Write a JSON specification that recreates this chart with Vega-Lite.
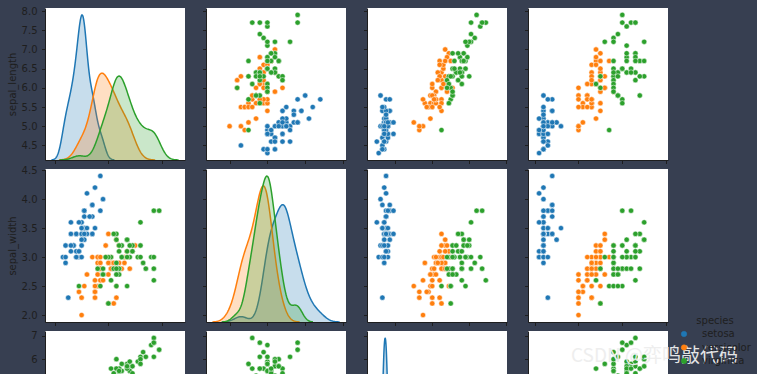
{
"$schema":"https://vega.github.io/schema/vega-lite/v6.json",
"background":"#373f51",
"padding":{"left":7,"top":6,"right":7,"bottom":0},
"autosize":{"type":"pad"},
"bounds":"flush",
"columns":4,
"spacing":{"row":9,"column":21},
"datasets":{"iris":[
{"sepal_length":5.1,"sepal_width":3.5,"petal_length":1.4,"petal_width":0.2,"species":"setosa"},
{"sepal_length":4.9,"sepal_width":3.0,"petal_length":1.4,"petal_width":0.2,"species":"setosa"},
{"sepal_length":4.7,"sepal_width":3.2,"petal_length":1.3,"petal_width":0.2,"species":"setosa"},
{"sepal_length":4.6,"sepal_width":3.1,"petal_length":1.5,"petal_width":0.2,"species":"setosa"},
{"sepal_length":5.0,"sepal_width":3.6,"petal_length":1.4,"petal_width":0.2,"species":"setosa"},
{"sepal_length":5.4,"sepal_width":3.9,"petal_length":1.7,"petal_width":0.4,"species":"setosa"},
{"sepal_length":4.6,"sepal_width":3.4,"petal_length":1.4,"petal_width":0.3,"species":"setosa"},
{"sepal_length":5.0,"sepal_width":3.4,"petal_length":1.5,"petal_width":0.2,"species":"setosa"},
{"sepal_length":4.4,"sepal_width":2.9,"petal_length":1.4,"petal_width":0.2,"species":"setosa"},
{"sepal_length":4.9,"sepal_width":3.1,"petal_length":1.5,"petal_width":0.1,"species":"setosa"},
{"sepal_length":5.4,"sepal_width":3.7,"petal_length":1.5,"petal_width":0.2,"species":"setosa"},
{"sepal_length":4.8,"sepal_width":3.4,"petal_length":1.6,"petal_width":0.2,"species":"setosa"},
{"sepal_length":4.8,"sepal_width":3.0,"petal_length":1.4,"petal_width":0.1,"species":"setosa"},
{"sepal_length":4.3,"sepal_width":3.0,"petal_length":1.1,"petal_width":0.1,"species":"setosa"},
{"sepal_length":5.8,"sepal_width":4.0,"petal_length":1.2,"petal_width":0.2,"species":"setosa"},
{"sepal_length":5.7,"sepal_width":4.4,"petal_length":1.5,"petal_width":0.4,"species":"setosa"},
{"sepal_length":5.4,"sepal_width":3.9,"petal_length":1.3,"petal_width":0.4,"species":"setosa"},
{"sepal_length":5.1,"sepal_width":3.5,"petal_length":1.4,"petal_width":0.3,"species":"setosa"},
{"sepal_length":5.7,"sepal_width":3.8,"petal_length":1.7,"petal_width":0.3,"species":"setosa"},
{"sepal_length":5.1,"sepal_width":3.8,"petal_length":1.5,"petal_width":0.3,"species":"setosa"},
{"sepal_length":5.4,"sepal_width":3.4,"petal_length":1.7,"petal_width":0.2,"species":"setosa"},
{"sepal_length":5.1,"sepal_width":3.7,"petal_length":1.5,"petal_width":0.4,"species":"setosa"},
{"sepal_length":4.6,"sepal_width":3.6,"petal_length":1.0,"petal_width":0.2,"species":"setosa"},
{"sepal_length":5.1,"sepal_width":3.3,"petal_length":1.7,"petal_width":0.5,"species":"setosa"},
{"sepal_length":4.8,"sepal_width":3.4,"petal_length":1.9,"petal_width":0.2,"species":"setosa"},
{"sepal_length":5.0,"sepal_width":3.0,"petal_length":1.6,"petal_width":0.2,"species":"setosa"},
{"sepal_length":5.0,"sepal_width":3.4,"petal_length":1.6,"petal_width":0.4,"species":"setosa"},
{"sepal_length":5.2,"sepal_width":3.5,"petal_length":1.5,"petal_width":0.2,"species":"setosa"},
{"sepal_length":5.2,"sepal_width":3.4,"petal_length":1.4,"petal_width":0.2,"species":"setosa"},
{"sepal_length":4.7,"sepal_width":3.2,"petal_length":1.6,"petal_width":0.2,"species":"setosa"},
{"sepal_length":4.8,"sepal_width":3.1,"petal_length":1.6,"petal_width":0.2,"species":"setosa"},
{"sepal_length":5.4,"sepal_width":3.4,"petal_length":1.5,"petal_width":0.4,"species":"setosa"},
{"sepal_length":5.2,"sepal_width":4.1,"petal_length":1.5,"petal_width":0.1,"species":"setosa"},
{"sepal_length":5.5,"sepal_width":4.2,"petal_length":1.4,"petal_width":0.2,"species":"setosa"},
{"sepal_length":4.9,"sepal_width":3.1,"petal_length":1.5,"petal_width":0.2,"species":"setosa"},
{"sepal_length":5.0,"sepal_width":3.2,"petal_length":1.2,"petal_width":0.2,"species":"setosa"},
{"sepal_length":5.5,"sepal_width":3.5,"petal_length":1.3,"petal_width":0.2,"species":"setosa"},
{"sepal_length":4.9,"sepal_width":3.6,"petal_length":1.4,"petal_width":0.1,"species":"setosa"},
{"sepal_length":4.4,"sepal_width":3.0,"petal_length":1.3,"petal_width":0.2,"species":"setosa"},
{"sepal_length":5.1,"sepal_width":3.4,"petal_length":1.5,"petal_width":0.2,"species":"setosa"},
{"sepal_length":5.0,"sepal_width":3.5,"petal_length":1.3,"petal_width":0.3,"species":"setosa"},
{"sepal_length":4.5,"sepal_width":2.3,"petal_length":1.3,"petal_width":0.3,"species":"setosa"},
{"sepal_length":4.4,"sepal_width":3.2,"petal_length":1.3,"petal_width":0.2,"species":"setosa"},
{"sepal_length":5.0,"sepal_width":3.5,"petal_length":1.6,"petal_width":0.6,"species":"setosa"},
{"sepal_length":5.1,"sepal_width":3.8,"petal_length":1.9,"petal_width":0.4,"species":"setosa"},
{"sepal_length":4.8,"sepal_width":3.0,"petal_length":1.4,"petal_width":0.3,"species":"setosa"},
{"sepal_length":5.1,"sepal_width":3.8,"petal_length":1.6,"petal_width":0.2,"species":"setosa"},
{"sepal_length":4.6,"sepal_width":3.2,"petal_length":1.4,"petal_width":0.2,"species":"setosa"},
{"sepal_length":5.3,"sepal_width":3.7,"petal_length":1.5,"petal_width":0.2,"species":"setosa"},
{"sepal_length":5.0,"sepal_width":3.3,"petal_length":1.4,"petal_width":0.2,"species":"setosa"},
{"sepal_length":7.0,"sepal_width":3.2,"petal_length":4.7,"petal_width":1.4,"species":"versicolor"},
{"sepal_length":6.4,"sepal_width":3.2,"petal_length":4.5,"petal_width":1.5,"species":"versicolor"},
{"sepal_length":6.9,"sepal_width":3.1,"petal_length":4.9,"petal_width":1.5,"species":"versicolor"},
{"sepal_length":5.5,"sepal_width":2.3,"petal_length":4.0,"petal_width":1.3,"species":"versicolor"},
{"sepal_length":6.5,"sepal_width":2.8,"petal_length":4.6,"petal_width":1.5,"species":"versicolor"},
{"sepal_length":5.7,"sepal_width":2.8,"petal_length":4.5,"petal_width":1.3,"species":"versicolor"},
{"sepal_length":6.3,"sepal_width":3.3,"petal_length":4.7,"petal_width":1.6,"species":"versicolor"},
{"sepal_length":4.9,"sepal_width":2.4,"petal_length":3.3,"petal_width":1.0,"species":"versicolor"},
{"sepal_length":6.6,"sepal_width":2.9,"petal_length":4.6,"petal_width":1.3,"species":"versicolor"},
{"sepal_length":5.2,"sepal_width":2.7,"petal_length":3.9,"petal_width":1.4,"species":"versicolor"},
{"sepal_length":5.0,"sepal_width":2.0,"petal_length":3.5,"petal_width":1.0,"species":"versicolor"},
{"sepal_length":5.9,"sepal_width":3.0,"petal_length":4.2,"petal_width":1.5,"species":"versicolor"},
{"sepal_length":6.0,"sepal_width":2.2,"petal_length":4.0,"petal_width":1.0,"species":"versicolor"},
{"sepal_length":6.1,"sepal_width":2.9,"petal_length":4.7,"petal_width":1.4,"species":"versicolor"},
{"sepal_length":5.6,"sepal_width":2.9,"petal_length":3.6,"petal_width":1.3,"species":"versicolor"},
{"sepal_length":6.7,"sepal_width":3.1,"petal_length":4.4,"petal_width":1.4,"species":"versicolor"},
{"sepal_length":5.6,"sepal_width":3.0,"petal_length":4.5,"petal_width":1.5,"species":"versicolor"},
{"sepal_length":5.8,"sepal_width":2.7,"petal_length":4.1,"petal_width":1.0,"species":"versicolor"},
{"sepal_length":6.2,"sepal_width":2.2,"petal_length":4.5,"petal_width":1.5,"species":"versicolor"},
{"sepal_length":5.6,"sepal_width":2.5,"petal_length":3.9,"petal_width":1.1,"species":"versicolor"},
{"sepal_length":5.9,"sepal_width":3.2,"petal_length":4.8,"petal_width":1.8,"species":"versicolor"},
{"sepal_length":6.1,"sepal_width":2.8,"petal_length":4.0,"petal_width":1.3,"species":"versicolor"},
{"sepal_length":6.3,"sepal_width":2.5,"petal_length":4.9,"petal_width":1.5,"species":"versicolor"},
{"sepal_length":6.1,"sepal_width":2.8,"petal_length":4.7,"petal_width":1.2,"species":"versicolor"},
{"sepal_length":6.4,"sepal_width":2.9,"petal_length":4.3,"petal_width":1.3,"species":"versicolor"},
{"sepal_length":6.6,"sepal_width":3.0,"petal_length":4.4,"petal_width":1.4,"species":"versicolor"},
{"sepal_length":6.8,"sepal_width":2.8,"petal_length":4.8,"petal_width":1.4,"species":"versicolor"},
{"sepal_length":6.7,"sepal_width":3.0,"petal_length":5.0,"petal_width":1.7,"species":"versicolor"},
{"sepal_length":6.0,"sepal_width":2.9,"petal_length":4.5,"petal_width":1.5,"species":"versicolor"},
{"sepal_length":5.7,"sepal_width":2.6,"petal_length":3.5,"petal_width":1.0,"species":"versicolor"},
{"sepal_length":5.5,"sepal_width":2.4,"petal_length":3.8,"petal_width":1.1,"species":"versicolor"},
{"sepal_length":5.5,"sepal_width":2.4,"petal_length":3.7,"petal_width":1.0,"species":"versicolor"},
{"sepal_length":5.8,"sepal_width":2.7,"petal_length":3.9,"petal_width":1.2,"species":"versicolor"},
{"sepal_length":6.0,"sepal_width":2.7,"petal_length":5.1,"petal_width":1.6,"species":"versicolor"},
{"sepal_length":5.4,"sepal_width":3.0,"petal_length":4.5,"petal_width":1.5,"species":"versicolor"},
{"sepal_length":6.0,"sepal_width":3.4,"petal_length":4.5,"petal_width":1.6,"species":"versicolor"},
{"sepal_length":6.7,"sepal_width":3.1,"petal_length":4.7,"petal_width":1.5,"species":"versicolor"},
{"sepal_length":6.3,"sepal_width":2.3,"petal_length":4.4,"petal_width":1.3,"species":"versicolor"},
{"sepal_length":5.6,"sepal_width":3.0,"petal_length":4.1,"petal_width":1.3,"species":"versicolor"},
{"sepal_length":5.5,"sepal_width":2.5,"petal_length":4.0,"petal_width":1.3,"species":"versicolor"},
{"sepal_length":5.5,"sepal_width":2.6,"petal_length":4.4,"petal_width":1.2,"species":"versicolor"},
{"sepal_length":6.1,"sepal_width":3.0,"petal_length":4.6,"petal_width":1.4,"species":"versicolor"},
{"sepal_length":5.8,"sepal_width":2.6,"petal_length":4.0,"petal_width":1.2,"species":"versicolor"},
{"sepal_length":5.0,"sepal_width":2.3,"petal_length":3.3,"petal_width":1.0,"species":"versicolor"},
{"sepal_length":5.6,"sepal_width":2.7,"petal_length":4.2,"petal_width":1.3,"species":"versicolor"},
{"sepal_length":5.7,"sepal_width":3.0,"petal_length":4.2,"petal_width":1.2,"species":"versicolor"},
{"sepal_length":5.7,"sepal_width":2.9,"petal_length":4.2,"petal_width":1.3,"species":"versicolor"},
{"sepal_length":6.2,"sepal_width":2.9,"petal_length":4.3,"petal_width":1.3,"species":"versicolor"},
{"sepal_length":5.1,"sepal_width":2.5,"petal_length":3.0,"petal_width":1.1,"species":"versicolor"},
{"sepal_length":5.7,"sepal_width":2.8,"petal_length":4.1,"petal_width":1.3,"species":"versicolor"},
{"sepal_length":6.3,"sepal_width":3.3,"petal_length":6.0,"petal_width":2.5,"species":"virginica"},
{"sepal_length":5.8,"sepal_width":2.7,"petal_length":5.1,"petal_width":1.9,"species":"virginica"},
{"sepal_length":7.1,"sepal_width":3.0,"petal_length":5.9,"petal_width":2.1,"species":"virginica"},
{"sepal_length":6.3,"sepal_width":2.9,"petal_length":5.6,"petal_width":1.8,"species":"virginica"},
{"sepal_length":6.5,"sepal_width":3.0,"petal_length":5.8,"petal_width":2.2,"species":"virginica"},
{"sepal_length":7.6,"sepal_width":3.0,"petal_length":6.6,"petal_width":2.1,"species":"virginica"},
{"sepal_length":4.9,"sepal_width":2.5,"petal_length":4.5,"petal_width":1.7,"species":"virginica"},
{"sepal_length":7.3,"sepal_width":2.9,"petal_length":6.3,"petal_width":1.8,"species":"virginica"},
{"sepal_length":6.7,"sepal_width":2.5,"petal_length":5.8,"petal_width":1.8,"species":"virginica"},
{"sepal_length":7.2,"sepal_width":3.6,"petal_length":6.1,"petal_width":2.5,"species":"virginica"},
{"sepal_length":6.5,"sepal_width":3.2,"petal_length":5.1,"petal_width":2.0,"species":"virginica"},
{"sepal_length":6.4,"sepal_width":2.7,"petal_length":5.3,"petal_width":1.9,"species":"virginica"},
{"sepal_length":6.8,"sepal_width":3.0,"petal_length":5.5,"petal_width":2.1,"species":"virginica"},
{"sepal_length":5.7,"sepal_width":2.5,"petal_length":5.0,"petal_width":2.0,"species":"virginica"},
{"sepal_length":5.8,"sepal_width":2.8,"petal_length":5.1,"petal_width":2.4,"species":"virginica"},
{"sepal_length":6.4,"sepal_width":3.2,"petal_length":5.3,"petal_width":2.3,"species":"virginica"},
{"sepal_length":6.5,"sepal_width":3.0,"petal_length":5.5,"petal_width":1.8,"species":"virginica"},
{"sepal_length":7.7,"sepal_width":3.8,"petal_length":6.7,"petal_width":2.2,"species":"virginica"},
{"sepal_length":7.7,"sepal_width":2.6,"petal_length":6.9,"petal_width":2.3,"species":"virginica"},
{"sepal_length":6.0,"sepal_width":2.2,"petal_length":5.0,"petal_width":1.5,"species":"virginica"},
{"sepal_length":6.9,"sepal_width":3.2,"petal_length":5.7,"petal_width":2.3,"species":"virginica"},
{"sepal_length":5.6,"sepal_width":2.8,"petal_length":4.9,"petal_width":2.0,"species":"virginica"},
{"sepal_length":7.7,"sepal_width":2.8,"petal_length":6.7,"petal_width":2.0,"species":"virginica"},
{"sepal_length":6.3,"sepal_width":2.7,"petal_length":4.9,"petal_width":1.8,"species":"virginica"},
{"sepal_length":6.7,"sepal_width":3.3,"petal_length":5.7,"petal_width":2.1,"species":"virginica"},
{"sepal_length":7.2,"sepal_width":3.2,"petal_length":6.0,"petal_width":1.8,"species":"virginica"},
{"sepal_length":6.2,"sepal_width":2.8,"petal_length":4.8,"petal_width":1.8,"species":"virginica"},
{"sepal_length":6.1,"sepal_width":3.0,"petal_length":4.9,"petal_width":1.8,"species":"virginica"},
{"sepal_length":6.4,"sepal_width":2.8,"petal_length":5.6,"petal_width":2.1,"species":"virginica"},
{"sepal_length":7.2,"sepal_width":3.0,"petal_length":5.8,"petal_width":1.6,"species":"virginica"},
{"sepal_length":7.4,"sepal_width":2.8,"petal_length":6.1,"petal_width":1.9,"species":"virginica"},
{"sepal_length":7.9,"sepal_width":3.8,"petal_length":6.4,"petal_width":2.0,"species":"virginica"},
{"sepal_length":6.4,"sepal_width":2.8,"petal_length":5.6,"petal_width":2.2,"species":"virginica"},
{"sepal_length":6.3,"sepal_width":2.8,"petal_length":5.1,"petal_width":1.5,"species":"virginica"},
{"sepal_length":6.1,"sepal_width":2.6,"petal_length":5.6,"petal_width":1.4,"species":"virginica"},
{"sepal_length":7.7,"sepal_width":3.0,"petal_length":6.1,"petal_width":2.3,"species":"virginica"},
{"sepal_length":6.3,"sepal_width":3.4,"petal_length":5.6,"petal_width":2.4,"species":"virginica"},
{"sepal_length":6.4,"sepal_width":3.1,"petal_length":5.5,"petal_width":1.8,"species":"virginica"},
{"sepal_length":6.0,"sepal_width":3.0,"petal_length":4.8,"petal_width":1.8,"species":"virginica"},
{"sepal_length":6.9,"sepal_width":3.1,"petal_length":5.4,"petal_width":2.1,"species":"virginica"},
{"sepal_length":6.7,"sepal_width":3.1,"petal_length":5.6,"petal_width":2.4,"species":"virginica"},
{"sepal_length":6.9,"sepal_width":3.1,"petal_length":5.1,"petal_width":2.3,"species":"virginica"},
{"sepal_length":5.8,"sepal_width":2.7,"petal_length":5.1,"petal_width":1.9,"species":"virginica"},
{"sepal_length":6.8,"sepal_width":3.2,"petal_length":5.9,"petal_width":2.3,"species":"virginica"},
{"sepal_length":6.7,"sepal_width":3.3,"petal_length":5.7,"petal_width":2.5,"species":"virginica"},
{"sepal_length":6.7,"sepal_width":3.0,"petal_length":5.2,"petal_width":2.3,"species":"virginica"},
{"sepal_length":6.3,"sepal_width":2.5,"petal_length":5.0,"petal_width":1.9,"species":"virginica"},
{"sepal_length":6.5,"sepal_width":3.0,"petal_length":5.2,"petal_width":2.0,"species":"virginica"},
{"sepal_length":6.2,"sepal_width":3.4,"petal_length":5.4,"petal_width":2.3,"species":"virginica"},
{"sepal_length":5.9,"sepal_width":3.0,"petal_length":5.1,"petal_width":1.8,"species":"virginica"}
]},
"data":{"name":"iris"},
"config":{
 "font":"DejaVu Sans",
 "view":{"fill":"white","stroke":null},
 "axis":{"grid":false,"domainColor":"#1e1e1e","domainWidth":1,"tickColor":"#1e1e1e","tickWidth":1,"tickSize":3.5,"labelColor":"#1e1e1e","labelFontSize":10,"labelPadding":4.5,"titleColor":"#1e1e1e","titleFontSize":10,"titleFontWeight":"normal","titlePadding":4},
 "legend":{"orient":"none","legendX":634,"legendY":308,"titleAnchor":"middle","titlePadding":3,"symbolType":"circle","symbolSize":30,"symbolStrokeColor":"white","symbolStrokeWidth":0.5,"symbolOpacity":1,"rowPadding":3.5,"labelOffset":13,"padding":0,"titleColor":"#1e1e1e","labelColor":"#1e1e1e","titleFontSize":10,"labelFontSize":10,"titleFontWeight":"normal"}
},
"concat":[
  {"width":140,"height":152,
   "layer":[
    {"mark":{"type":"point","opacity":0},
     "encoding":{"x":{"field":"sepal_length","type":"quantitative","scale":{"domain":[3.631,8.865],"nice":false,"zero":false},"axis":{"values":[4,6,8],"labels":false,"title":null}},
                 "y":{"field":"sepal_length","type":"quantitative","scale":{"domain":[4.12,8.08],"nice":false,"zero":false},"axis":{"values":[4.5,5,5.5,6,6.5,7,7.5,8],"format":".1f","title":"sepal_length"}}}},
    {"transform":[{"filter":"datum.species == 'setosa'"},{"density":"sepal_length","groupby":["species"],"bandwidth":0.1436,"extent":[3.869,6.231],"steps":200}],
     "mark":{"type":"area","fillOpacity":0.25,"line":{"strokeWidth":1.5},"clip":true},
     "encoding":{"x":{"field":"value","type":"quantitative","scale":{"domain":[3.631,8.865],"nice":false,"zero":false},"axis":{"values":[4,6,8],"labels":false,"title":null}},
                 "y":{"field":"density","type":"quantitative","stack":null,"scale":{"domain":[0,1.225],"nice":false,"zero":false},"axis":null},
                 "color":{"field":"species","type":"nominal","scale":{"domain":["setosa","versicolor","virginica"],"range":["#1f77b4","#ff7f0e","#2ca02c"]}}}},
    {"transform":[{"filter":"datum.species == 'versicolor'"},{"density":"sepal_length","groupby":["species"],"bandwidth":0.2499,"extent":[4.15,7.75],"steps":200}],
     "mark":{"type":"area","fillOpacity":0.25,"line":{"strokeWidth":1.5},"clip":true},
     "encoding":{"x":{"field":"value","type":"quantitative","scale":{"domain":[3.631,8.865],"nice":false,"zero":false},"axis":{"values":[4,6,8],"labels":false,"title":null}},
                 "y":{"field":"density","type":"quantitative","stack":null,"scale":{"domain":[0,1.225],"nice":false,"zero":false},"axis":null},
                 "color":{"field":"species","type":"nominal","scale":{"domain":["setosa","versicolor","virginica"],"range":["#1f77b4","#ff7f0e","#2ca02c"]}}}},
    {"transform":[{"filter":"datum.species == 'virginica'"},{"density":"sepal_length","groupby":["species"],"bandwidth":0.2423,"extent":[4.173,8.627],"steps":200}],
     "mark":{"type":"area","fillOpacity":0.25,"line":{"strokeWidth":1.5},"clip":true},
     "encoding":{"x":{"field":"value","type":"quantitative","scale":{"domain":[3.631,8.865],"nice":false,"zero":false},"axis":{"values":[4,6,8],"labels":false,"title":null}},
                 "y":{"field":"density","type":"quantitative","stack":null,"scale":{"domain":[0,1.225],"nice":false,"zero":false},"axis":null},
                 "color":{"field":"species","type":"nominal","scale":{"domain":["setosa","versicolor","virginica"],"range":["#1f77b4","#ff7f0e","#2ca02c"]}}}}
   ],
   "resolve":{"scale":{"y":"independent"}}},
  {"width":140,"height":152,
   "mark":{"type":"point","filled":true,"size":28,"opacity":1,"stroke":"white","strokeWidth":0.5,"clip":true},
   "encoding":{"x":{"field":"sepal_width","type":"quantitative","scale":{"domain":[1.376,5.08],"nice":false,"zero":false},"axis":{"values":[2,3,4,5],"labels":false,"title":null}},
               "y":{"field":"sepal_length","type":"quantitative","scale":{"domain":[4.12,8.08],"nice":false,"zero":false},"axis":{"values":[4.5,5,5.5,6,6.5,7,7.5,8],"labels":false,"title":null}},
               "color":{"field":"species","type":"nominal","scale":{"domain":["setosa","versicolor","virginica"],"range":["#1f77b4","#ff7f0e","#2ca02c"]}}}},
  {"width":140,"height":152,
   "mark":{"type":"point","filled":true,"size":28,"opacity":1,"stroke":"white","strokeWidth":0.5,"clip":true},
   "encoding":{"x":{"field":"petal_length","type":"quantitative","scale":{"domain":[0.4675,8.0465],"nice":false,"zero":false},"axis":{"values":[2,4,6,8],"labels":false,"title":null}},
               "y":{"field":"sepal_length","type":"quantitative","scale":{"domain":[4.12,8.08],"nice":false,"zero":false},"axis":{"values":[4.5,5,5.5,6,6.5,7,7.5,8],"labels":false,"title":null}},
               "color":{"field":"species","type":"nominal","scale":{"domain":["setosa","versicolor","virginica"],"range":["#1f77b4","#ff7f0e","#2ca02c"]}}}},
  {"width":140,"height":152,
   "mark":{"type":"point","filled":true,"size":28,"opacity":1,"stroke":"white","strokeWidth":0.5,"clip":true},
   "encoding":{"x":{"field":"petal_width","type":"quantitative","scale":{"domain":[-0.153,3.044],"nice":false,"zero":false},"axis":{"values":[0,1,2,3],"labels":false,"title":null}},
               "y":{"field":"sepal_length","type":"quantitative","scale":{"domain":[4.12,8.08],"nice":false,"zero":false},"axis":{"values":[4.5,5,5.5,6,6.5,7,7.5,8],"labels":false,"title":null}},
               "color":{"field":"species","type":"nominal","scale":{"domain":["setosa","versicolor","virginica"],"range":["#1f77b4","#ff7f0e","#2ca02c"]}}}},
  {"width":140,"height":153,
   "mark":{"type":"point","filled":true,"size":28,"opacity":1,"stroke":"white","strokeWidth":0.5,"clip":true},
   "encoding":{"x":{"field":"sepal_length","type":"quantitative","scale":{"domain":[3.631,8.865],"nice":false,"zero":false},"axis":{"values":[4,6,8],"labels":false,"title":null}},
               "y":{"field":"sepal_width","type":"quantitative","scale":{"domain":[1.88,4.52],"nice":false,"zero":false},"axis":{"values":[2,2.5,3,3.5,4,4.5],"format":".1f","title":"sepal_width"}},
               "color":{"field":"species","type":"nominal","scale":{"domain":["setosa","versicolor","virginica"],"range":["#1f77b4","#ff7f0e","#2ca02c"]}}}},
  {"width":140,"height":153,
   "layer":[
    {"mark":{"type":"point","opacity":0},
     "encoding":{"x":{"field":"sepal_width","type":"quantitative","scale":{"domain":[1.376,5.08],"nice":false,"zero":false},"axis":{"values":[2,3,4,5],"labels":false,"title":null}},
                 "y":{"field":"sepal_width","type":"quantitative","scale":{"domain":[1.88,4.52],"nice":false,"zero":false},"axis":{"values":[2,2.5,3,3.5,4,4.5],"labels":false,"title":null}}}},
    {"transform":[{"filter":"datum.species == 'setosa'"},{"density":"sepal_width","groupby":["species"],"bandwidth":0.1705,"extent":[1.788,4.912],"steps":200}],
     "mark":{"type":"area","fillOpacity":0.25,"line":{"strokeWidth":1.5},"clip":true},
     "encoding":{"x":{"field":"value","type":"quantitative","scale":{"domain":[1.376,5.08],"nice":false,"zero":false},"axis":{"values":[2,3,4,5],"labels":false,"title":null}},
                 "y":{"field":"density","type":"quantitative","stack":null,"scale":{"domain":[0,1.338],"nice":false,"zero":false},"axis":null},
                 "color":{"field":"species","type":"nominal","scale":{"domain":["setosa","versicolor","virginica"],"range":["#1f77b4","#ff7f0e","#2ca02c"]}}}},
    {"transform":[{"filter":"datum.species == 'versicolor'"},{"density":"sepal_width","groupby":["species"],"bandwidth":0.152,"extent":[1.544,3.856],"steps":200}],
     "mark":{"type":"area","fillOpacity":0.25,"line":{"strokeWidth":1.5},"clip":true},
     "encoding":{"x":{"field":"value","type":"quantitative","scale":{"domain":[1.376,5.08],"nice":false,"zero":false},"axis":{"values":[2,3,4,5],"labels":false,"title":null}},
                 "y":{"field":"density","type":"quantitative","stack":null,"scale":{"domain":[0,1.338],"nice":false,"zero":false},"axis":null},
                 "color":{"field":"species","type":"nominal","scale":{"domain":["setosa","versicolor","virginica"],"range":["#1f77b4","#ff7f0e","#2ca02c"]}}}},
    {"transform":[{"filter":"datum.species == 'virginica'"},{"density":"sepal_width","groupby":["species"],"bandwidth":0.1346,"extent":[1.796,4.204],"steps":200}],
     "mark":{"type":"area","fillOpacity":0.25,"line":{"strokeWidth":1.5},"clip":true},
     "encoding":{"x":{"field":"value","type":"quantitative","scale":{"domain":[1.376,5.08],"nice":false,"zero":false},"axis":{"values":[2,3,4,5],"labels":false,"title":null}},
                 "y":{"field":"density","type":"quantitative","stack":null,"scale":{"domain":[0,1.338],"nice":false,"zero":false},"axis":null},
                 "color":{"field":"species","type":"nominal","scale":{"domain":["setosa","versicolor","virginica"],"range":["#1f77b4","#ff7f0e","#2ca02c"]}}}}
   ],
   "resolve":{"scale":{"y":"independent"}}},
  {"width":140,"height":153,
   "mark":{"type":"point","filled":true,"size":28,"opacity":1,"stroke":"white","strokeWidth":0.5,"clip":true},
   "encoding":{"x":{"field":"petal_length","type":"quantitative","scale":{"domain":[0.4675,8.0465],"nice":false,"zero":false},"axis":{"values":[2,4,6,8],"labels":false,"title":null}},
               "y":{"field":"sepal_width","type":"quantitative","scale":{"domain":[1.88,4.52],"nice":false,"zero":false},"axis":{"values":[2,2.5,3,3.5,4,4.5],"labels":false,"title":null}},
               "color":{"field":"species","type":"nominal","scale":{"domain":["setosa","versicolor","virginica"],"range":["#1f77b4","#ff7f0e","#2ca02c"]}}}},
  {"width":140,"height":153,
   "mark":{"type":"point","filled":true,"size":28,"opacity":1,"stroke":"white","strokeWidth":0.5,"clip":true},
   "encoding":{"x":{"field":"petal_width","type":"quantitative","scale":{"domain":[-0.153,3.044],"nice":false,"zero":false},"axis":{"values":[0,1,2,3],"labels":false,"title":null}},
               "y":{"field":"sepal_width","type":"quantitative","scale":{"domain":[1.88,4.52],"nice":false,"zero":false},"axis":{"values":[2,2.5,3,3.5,4,4.5],"labels":false,"title":null}},
               "color":{"field":"species","type":"nominal","scale":{"domain":["setosa","versicolor","virginica"],"range":["#1f77b4","#ff7f0e","#2ca02c"]}}}},
  {"width":140,"height":43,
   "mark":{"type":"point","filled":true,"size":28,"opacity":1,"stroke":"white","strokeWidth":0.5,"clip":true},
   "encoding":{"x":{"field":"sepal_length","type":"quantitative","scale":{"domain":[3.631,8.865],"nice":false,"zero":false},"axis":null},
               "y":{"field":"petal_length","type":"quantitative","scale":{"domain":[5.371,7.195],"nice":false,"zero":false},"axis":{"values":[6,7],"format":"d","title":null}},
               "color":{"field":"species","type":"nominal","scale":{"domain":["setosa","versicolor","virginica"],"range":["#1f77b4","#ff7f0e","#2ca02c"]}}}},
  {"width":140,"height":43,
   "mark":{"type":"point","filled":true,"size":28,"opacity":1,"stroke":"white","strokeWidth":0.5,"clip":true},
   "encoding":{"x":{"field":"sepal_width","type":"quantitative","scale":{"domain":[1.376,5.08],"nice":false,"zero":false},"axis":null},
               "y":{"field":"petal_length","type":"quantitative","scale":{"domain":[5.371,7.195],"nice":false,"zero":false},"axis":{"values":[6,7],"labels":false,"title":null}},
               "color":{"field":"species","type":"nominal","scale":{"domain":["setosa","versicolor","virginica"],"range":["#1f77b4","#ff7f0e","#2ca02c"]}}}},
  {"width":140,"height":43,
   "layer":[
    {"mark":{"type":"point","opacity":0,"clip":true},
     "encoding":{"x":{"field":"petal_length","type":"quantitative","scale":{"domain":[0.4675,8.0465],"nice":false,"zero":false},"axis":null},
                 "y":{"field":"petal_length","type":"quantitative","scale":{"domain":[5.371,7.195],"nice":false,"zero":false},"axis":{"values":[6,7],"labels":false,"title":null}}}},
    {"transform":[{"filter":"datum.species == 'setosa'"},{"density":"petal_length","groupby":["species"],"bandwidth":0.0628,"extent":[0.812,2.088],"steps":200}],
     "mark":{"type":"area","fillOpacity":0.25,"line":{"strokeWidth":1.5},"clip":true},
     "encoding":{"x":{"field":"value","type":"quantitative","scale":{"domain":[0.4675,8.0465],"nice":false,"zero":false},"axis":null},
                 "y":{"field":"density","type":"quantitative","stack":null,"scale":{"domain":[1.894,2.634],"nice":false,"zero":false},"axis":null},
                 "color":{"field":"species","type":"nominal","scale":{"domain":["setosa","versicolor","virginica"],"range":["#1f77b4","#ff7f0e","#2ca02c"]}}}}
   ],
   "resolve":{"scale":{"y":"independent"}}},
  {"width":140,"height":43,
   "layer":[
    {"mark":{"type":"point","filled":true,"size":28,"opacity":1,"stroke":"white","strokeWidth":0.5,"clip":true},
     "encoding":{"x":{"field":"petal_width","type":"quantitative","scale":{"domain":[-0.153,3.044],"nice":false,"zero":false},"axis":null},
                 "y":{"field":"petal_length","type":"quantitative","scale":{"domain":[5.371,7.195],"nice":false,"zero":false},"axis":{"values":[6,7],"labels":false,"title":null}},
                 "color":{"field":"species","type":"nominal","scale":{"domain":["setosa","versicolor","virginica"],"range":["#1f77b4","#ff7f0e","#2ca02c"]}}}},
    {"data":{"values":[{"label":"CSDN @弈鸣敲代码","x":0.829,"y":6.12}]},
     "mark":{"type":"text","align":"left","baseline":"middle","fontSize":19,"font":"Noto Sans CJK SC","color":"#eeeeee","opacity":0.95,"clip":false},
     "encoding":{"x":{"field":"x","type":"quantitative"},"y":{"field":"y","type":"quantitative"},"text":{"field":"label"}}}
   ]}
]
}
